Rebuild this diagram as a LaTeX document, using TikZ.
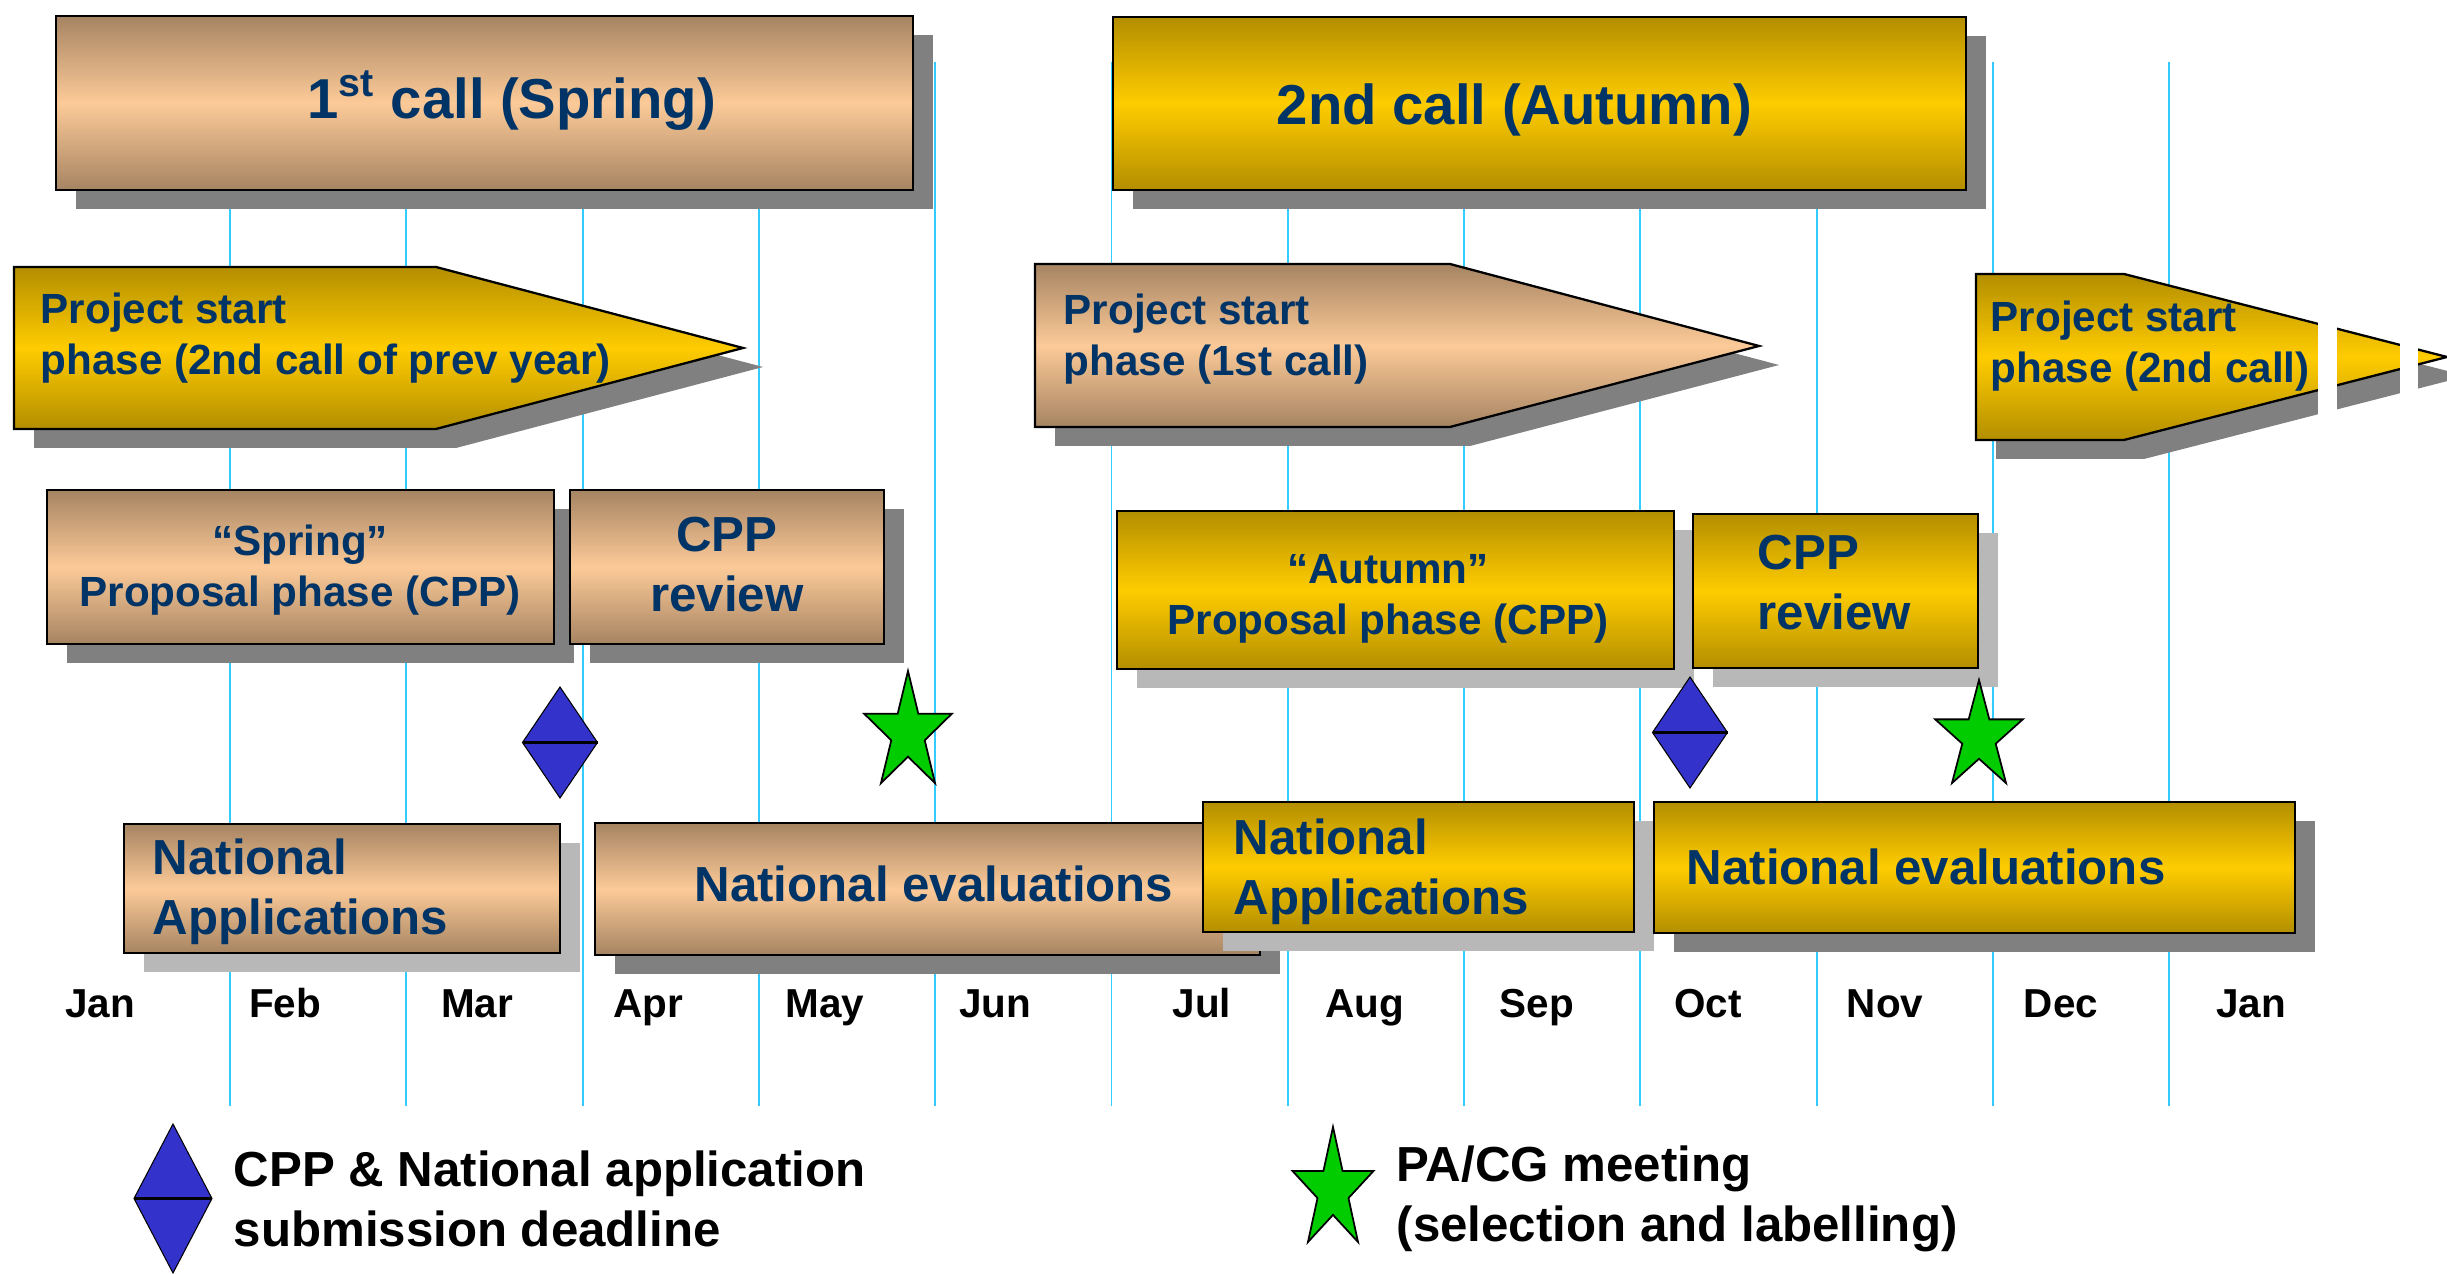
\documentclass[tikz,border=0pt]{standalone}
\usepackage{fontspec}
\setmainfont{Liberation Sans}
\usepackage{tikz}
\usetikzlibrary{shadows}
\usepackage{xcolor}
\definecolor{tandark}{HTML}{A68462}
\definecolor{tanlight}{HTML}{FCCA98}
\definecolor{golddark}{HTML}{B38E00}
\definecolor{goldlight}{HTML}{FFCC00}
\definecolor{navy}{HTML}{003366}
\definecolor{gridblue}{HTML}{33CCFF}
\definecolor{diamblue}{HTML}{3333CC}
\definecolor{stargreen}{HTML}{00CC00}
\definecolor{shadowgrey}{HTML}{808080}

\tikzset{
  deadline/.pic={
    \filldraw[fill=diamblue, draw=black, line width=0.3pt] (0,-1) -- (1,0) -- (0,1) -- (-1,0) -- cycle;
    \draw[line width=1.1pt] (-1,0) -- (1,0);
  },
  meeting/.pic={
    \filldraw[fill=stargreen, draw=black, line width=0.5pt] (90:1) -- (126:0.382) -- (162:1) -- (198:0.382) -- (234:1) -- (270:0.382) -- (306:1) -- (342:0.382) -- (18:1) -- (54:0.382) -- cycle;
  }
}

\begin{document}
\begin{tikzpicture}[x=0.01cm, y=-0.01cm,
    bar/.style={shade, draw=black, line width=0.65pt},
    tanbar/.style={bar, top color=tandark, bottom color=tandark, middle color=tanlight},
    goldbar/.style={bar, top color=golddark, bottom color=golddark, middle color=goldlight},
    solidshadow/.style={drop shadow={shadow xshift=0.2cm, shadow yshift=-0.19cm, fill=shadowgrey, opacity=1}},
    dithershadow/.style={drop shadow={shadow xshift=0.2cm, shadow yshift=-0.19cm, fill=black!28, opacity=1}},
    gridline/.style={gridblue, line width=0.55pt},
    title/.style={font=\fontsize{16}{19}\selectfont\bfseries, text=navy, inner sep=0pt, anchor=base},
    small/.style={font=\fontsize{12}{14.7}\selectfont\bfseries, text=navy, inner sep=0pt},
    big/.style={font=\fontsize{14}{17.3}\selectfont\bfseries, text=navy, inner sep=0pt},
    month/.style={font=\fontsize{11.5}{14}\selectfont\bfseries, inner sep=0pt, anchor=base},
    legend/.style={font=\fontsize{14}{17.3}\selectfont\bfseries, inner sep=0pt, anchor=base west, align=left}]
    \useasboundingbox (0,0) rectangle (2447,1274);

    % month grid
    \foreach \i in {0,...,11}
        \draw[gridline] ({230+176.3*\i},62) -- ({230+176.3*\i},1106);

    % calls
    \path[tanbar, solidshadow] (56,16) rectangle (913,190);
    \node[title] (spring) at (511.5,119) {1\textsuperscript{st} call (Spring)};
    \path[goldbar, solidshadow] (1113,17) rectangle (1966,190);
    \node[title] (autumn) at (1514.5,125) {2nd call (Autumn)};

    % project start phases (multi-line nodes sit on their last baseline)
    \path[goldbar, solidshadow] (14,267) -- (436,267) -- (743,348) -- (436,429) -- (14,429) -- cycle;
    \node[small, anchor=base west, align=left] (startprev) at (40,375) {Project start\\phase (2nd call of prev year)};
    \path[tanbar, solidshadow] (1035,264) -- (1450,264) -- (1759,346) -- (1450,427) -- (1035,427) -- cycle;
    \node[small, anchor=base west, align=left] (startfirst) at (1063,376) {Project start\\phase (1st call)};
    \path[goldbar, solidshadow] (1976,274) -- (2124,274) -- (2447,357) -- (2124,440) -- (1976,440) -- cycle;
    \fill[white] (2318,260) rectangle (2337,475);
    \fill[white] (2400,260) rectangle (2418,475);
    \node[small, anchor=base west, align=left] (startsecond) at (1990,383) {Project start\\phase (2nd call)};

    % proposal phases and reviews
    \path[tanbar, solidshadow] (47,490) rectangle (554,644);
    \node[small, anchor=base, align=center] (springcpp) at (300,607) {“Spring”\\Proposal phase (CPP)};
    \path[tanbar, solidshadow] (570,490) rectangle (884,644);
    \node[big, anchor=base, align=center] (springrev) at (727,612) {CPP\\review};
    \path[goldbar, dithershadow] (1117,511) rectangle (1674,669);
    \node[small, anchor=base, align=center] (autumncpp) at (1388,635) {“Autumn”\\Proposal phase (CPP)};
    \path[goldbar, dithershadow] (1693,514) rectangle (1978,668);
    \node[big, anchor=base west, align=left] (autumnrev) at (1757,630) {CPP\\review};

    % deadlines and meetings
    \pic[xscale=37.5, yscale=55.5] at (560,742.5) {deadline};
    \pic[xscale=46, yscale=-62] at (908,733) {meeting};
    \pic[xscale=37.5, yscale=55.5] at (1690,732.5) {deadline};
    \pic[xscale=46, yscale=-57] at (1979,737) {meeting};

    % national steps
    \path[tanbar, dithershadow] (124,824) rectangle (560,953);
    \node[big, anchor=base west, align=left] (springapp) at (152,935) {National\\Applications};
    \path[tanbar, solidshadow] (595,823) rectangle (1260,955);
    \node[big, anchor=base] (springeval) at (934,902) {National evaluations};
    \path[goldbar, dithershadow] (1203,802) rectangle (1634,932);
    \node[big, anchor=base west, align=left] (autumnapp) at (1233,915) {National\\Applications};
    \path[goldbar, solidshadow] (1654,802) rectangle (2295,933);
    \node[big, anchor=base west] (autumneval) at (1686,885) {National evaluations};

    % months
    \foreach \mx/\mname [count=\k] in {100/Jan,285/Feb,477/Mar,648/Apr,825/May,995/Jun,1202/Jul,1365/Aug,1537/Sep,1708/Oct,1885/Nov,2061/Dec,2251/Jan}
        \node[month] (m\k) at (\mx,1018) {\mname};

    % legend
    \pic[xscale=39, yscale=74.5] at (173,1198.5) {deadline};
    \node[legend] (deadlinetxt) at (233,1247) {CPP \& National application\\submission deadline};
    \pic[xscale=42.6, yscale=-63.6] at (1333,1190.6) {meeting};
    \node[legend] (meetingtxt) at (1396,1242) {PA/CG meeting\\(selection and labelling)};
\end{tikzpicture}
\end{document}
